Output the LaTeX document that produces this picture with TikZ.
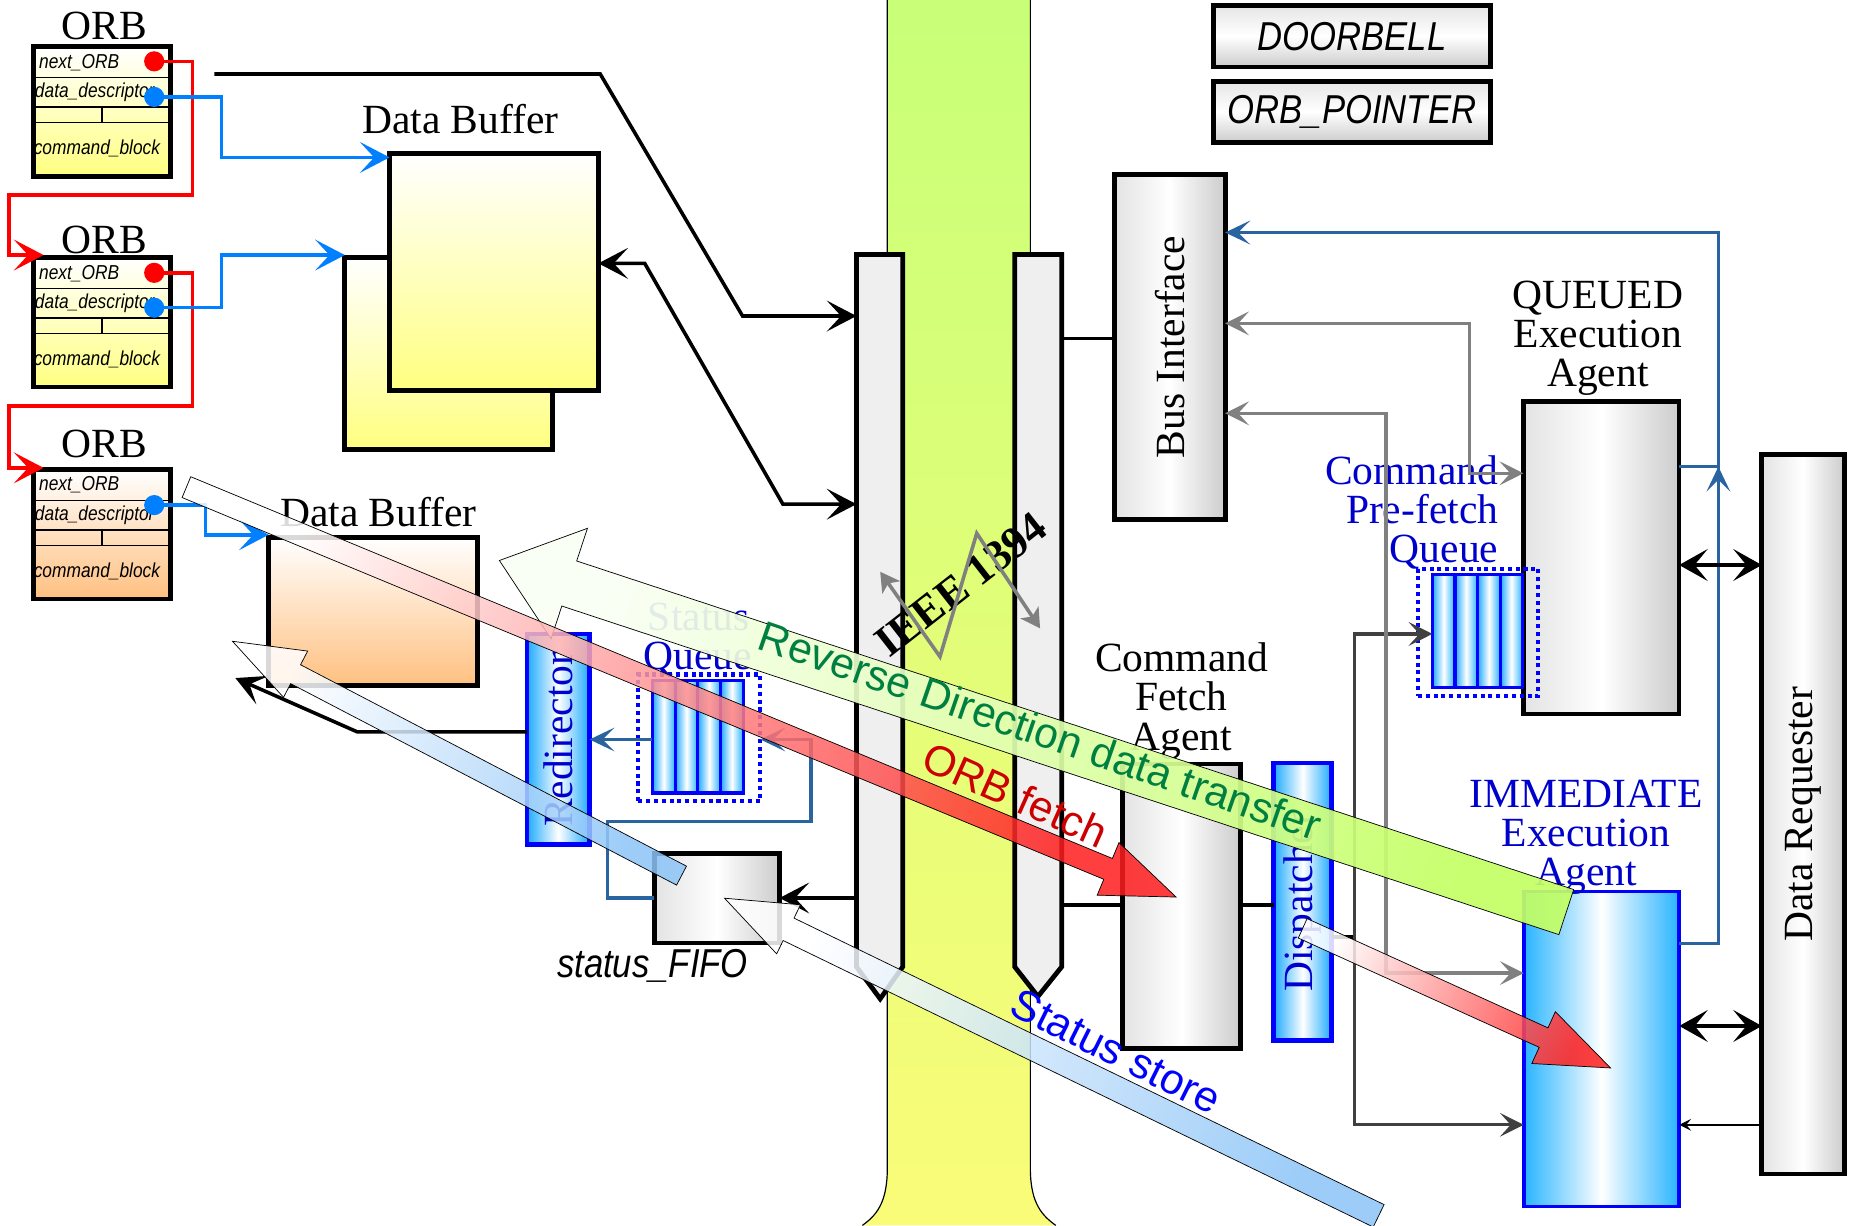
\documentclass[tikz,border=0pt]{standalone}
\usepackage{fontspec}
\setmainfont{Liberation Serif}
\setsansfont{Liberation Sans}
\newfontfamily\condsans[FakeStretch=0.86]{Liberation Sans}
\usetikzlibrary{arrows.meta,fit,calc}
\definecolor{steel}{RGB}{42,100,160}
\definecolor{cblue}{RGB}{0,128,255}
\definecolor{tblue}{RGB}{0,0,204}
\definecolor{pblue}{RGB}{0,0,255}
\definecolor{dgray}{RGB}{64,64,64}
\definecolor{mgray}{RGB}{128,128,128}
\definecolor{yel}{RGB}{255,255,128}
\definecolor{ora}{RGB}{255,192,128}
\definecolor{cyanA}{RGB}{30,170,255}
\definecolor{immcol}{RGB}{40,180,255}
\definecolor{lime}{RGB}{196,255,100}
\definecolor{tipgreen}{RGB}{250,255,245}
\definecolor{tgreen}{RGB}{0,128,64}
\definecolor{dred}{RGB}{204,0,0}
\definecolor{arrred}{RGB}{255,30,30}
\definecolor{lblue}{RGB}{140,196,248}
\definecolor{colgray}{RGB}{239,239,239}
\definecolor{bandtop}{RGB}{200,255,120}
\definecolor{bandbot}{RGB}{250,252,120}

\tikzset{
  every node/.style={inner sep=0pt,outer sep=0pt},
  bx/.style={draw=black,line width=2pt},
  graybox/.style={bx,left color=gray!22,right color=gray!40,middle color=white},
  regbox/.style={bx,top color=gray!20,bottom color=gray!40,middle color=white},
  cyanbox/.style={draw=pblue,line width=2pt,left color=cyanA,right color=cyanA,middle color=white},
  barshade/.style={left color=cyanA,right color=immcol,middle color=white},
  dotbox/.style={draw=pblue,line width=1.7pt,dash pattern=on 1.7pt off 1.6pt},
  lab/.style={font=\fontsize{17.5}{16.5}\selectfont,align=center},
  blab/.style={lab,text=tblue},
  smallit/.style={font=\condsans\itshape\fontsize{8.5}{9}\selectfont,anchor=west},
  regit/.style={font=\condsans\itshape\fontsize{17}{18}\selectfont},
  arrlab/.style={font=\sffamily\fontsize{18}{20}\selectfont},
  blk/.style={draw=black,line width=1.5pt},
  redl/.style={draw=red,line width=1.5pt},
  bluel/.style={draw=cblue,line width=1.5pt},
  stl/.style={draw=steel,line width=1.3pt},
  gyl/.style={draw=mgray,line width=1.5pt},
  dgl/.style={draw=dgray,line width=1.4pt},
  bigtip/.tip={Stealth[length=12.5pt,width=13pt,inset=6pt]},
  dbtip/.tip={Stealth[length=12pt,width=13.4pt,inset=5.5pt]},
  gytip/.tip={Stealth[length=10pt,width=10pt,inset=4.5pt]},
  stltip/.tip={Stealth[length=10.5pt,width=10pt,inset=5pt]},
  ieeetip/.tip={Stealth[length=8pt,width=9pt,inset=2pt]},
  smalltip/.tip={Stealth[length=5pt,width=5pt,inset=2pt]},
}

\newcommand\orbbox[3]{%
  \node[bx,top color=white,bottom color=#3,fit={(28.3,#2) (144,#2+109)}] (#1) {};
  \draw[line width=0.6pt] (28.3,#2+25.7) -- (144,#2+25.7) (28.3,#2+50.7) -- (144,#2+50.7)
     (28.3,#2+64) -- (144,#2+64) (86,#2+50.7) -- (86,#2+64);
  \node[smallit] at (33,#2+13) {next\_ORB};
  \node[smallit] at (29.5,#2+38) {data\_descriptor};
  \node[smallit] at (28.5,#2+86) {command\_block};
}

\newcommand\fatarrow[8]{%
  \begin{scope}[shift={(#1)},rotate=#2]
    \path[draw=black,line width=0.3pt,fill opacity=#8,#7] (0,0) -- (-#6,#5) -- (-#6,#4) -- (-#3,#4) -- (-#3,-#4) -- (-#6,-#4) -- (-#6,-#5) -- cycle;
  \end{scope}}

\begin{document}
\begin{tikzpicture}[x=0.5pt,y=-0.5pt]
\useasboundingbox (0,0) rectangle (1568,1033);
\fill[white] (0,0) rectangle (1568,1033);

% IEEE 1394 band
\shade[top color=bandtop,bottom color=bandbot] (748,0) -- (748,985) .. controls (748,1015) and (738,1025) .. (727,1033) -- (890,1033) .. controls (879,1025) and (868.6,1015) .. (868.6,985) -- (868.6,0) -- cycle;
\draw[line width=0.5pt] (748,0) -- (748,985) .. controls (748,1015) and (738,1025) .. (727,1033);
\draw[line width=0.5pt] (868.6,0) -- (868.6,985) .. controls (868.6,1015) and (879,1025) .. (890,1033);

% columns
\node[fit={(722,214.5) (761,815)}] (colL) {};
\path[bx,fill=colgray] (722,214.5) -- (761,214.5) -- (761,815) -- (742,842) -- (722,815) -- cycle;
\node[fit={(855.4,214.5) (895,815)}] (colR) {};
\path[bx,fill=colgray] (855.4,214.5) -- (895,214.5) -- (895,815) -- (875,840) -- (855.4,815) -- cycle;

\node[font=\bfseries\fontsize{18.5}{20}\selectfont,rotate=38] (ieee) at (810,493) {IEEE 1394};
\coordinate (z1) at (742,482);
\coordinate (z2) at (792.4,553.6);
\coordinate (z3) at (823.4,449.6);
\coordinate (z4) at (876.8,529.7);
\draw[gyl,ieeetip-ieeetip] (z1) -- (z2) -- (z3) -- (z4);

% ORBs
\orbbox{orb1}{39.5}{yel}
\orbbox{orb2}{217.3}{yel}
\orbbox{orb3}{396}{ora}
\node[lab] at (88,22) {ORB};
\node[lab] at (88,202) {ORB};
\node[lab] at (88,374) {ORB};

% data buffers
\node[bx,top color=white,bottom color=yel,fit={(290.7,217.3) (465.7,379)}] (dbback) {};
\node[bx,top color=white,bottom color=yel,fit={(328.4,129.3) (504.4,329.4)}] (dbfront) {};
\node[bx,top color=white,bottom color=ora,fit={(226.5,453.3) (402.6,578)}] (db2) {};
\node[lab] at (388,100) {Data Buffer};
\node[lab] at (319,432) {Data Buffer};

% ORB links
\coordinate (r1) at (130,51.7);
\coordinate (r2) at (130,230);
\coordinate (b1) at (130,81.7);
\coordinate (b2) at (130,259.4);
\coordinate (b3) at (130,425.8);
\draw[redl,-bigtip] (r1) -- (162.4,51.7) -- (162.4,164.4) -- (7.7,164.4) -- (7.7,215) -- ($(orb2.north west)+(8.4,-2.3)$);
\draw[redl,-bigtip] (r2) -- (162.4,230) -- (162.4,342.4) -- (7.7,342.4) -- (7.7,394.4) -- ($(orb3.north west)+(8.4,-1.6)$);
\draw[bluel,-bigtip] (b1) -- (186.7,81.7) -- (186.7,132.7) -- (dbfront.west |- 0,132.7);
\draw[bluel,-bigtip] (b2) -- (186.7,259.4) -- (186.7,215) -- (dbback.west |- 0,215);
\draw[bluel,-bigtip] (b3) -- (173.4,425.8) -- (173.4,450.8) -- (db2.west |- 0,450.8);
\foreach \p in {r1,r2} \fill[red] (\p) circle (8.5);
\foreach \p in {b1,b2,b3} \fill[cblue] (\p) circle (8.5);

% black links to bus
\coordinate (bstart) at (180.8,62.4);
\draw[blk,-bigtip] (bstart) -- (506,62.4) -- (626,266.4) -- (colL.west |- 0,266.4);
\draw[blk,bigtip-bigtip] (dbfront.east |- 0,222) -- (543.5,222) -- (660,425) -- (colL.west |- 0,425);

% redirector, status queue, status fifo
\node[cyanbox,fit={(444.3,534.5) (497,712)}] (redir) {};
\node[blab,rotate=90] at (redir.center) {Redirector};
\coordinate (db2arr) at (198.4,571.6);
\draw[blk,-bigtip] (redir.west |- 0,616.9) -- (301,616.9) -- (db2arr);

\node[fit={(550,573.7) (626.6,668.5)}] (sqbars) {};
\foreach \i in {0,1,2,3} \shade[barshade] ({550+\i*19.15},573.7) rectangle ({550+(\i+1)*19.15},668.5);
\draw[pblue,line width=1.3pt] (sqbars.north west) rectangle (sqbars.south east);
\foreach \i in {1,2,3} \draw[pblue,line width=1.3pt] ({550+\i*19.15},573.7) -- ({550+\i*19.15},668.5);
\node[dotbox,fit={(538,568.6) (641,675)}] (squeue) {};
\node[blab] at (589,520) {Status};
\node[blab] at (588,556) {Queue};

\node[graybox,fit={(551.7,719.4) (657.2,794.9)}] (sfifo) {};
\node[regit] at (550,814) {status\_FIFO};
\draw[stl,-stltip] (sqbars.west |- 0,623.4) -- (redir.east |- 0,623.4);
\draw[stl,-stltip] (sfifo.west |- 0,757) -- (511.9,757) -- (511.9,692.8) -- (683.7,692.8) -- (683.7,623.4) -- (squeue.east |- 0,623.4);
\draw[blk,-bigtip] (colL.west |- 0,757) -- (sfifo.east |- 0,757);

% registers
\node[regbox,fit={(1023,4.8) (1256.5,56.5)}] (doorbell) {};
\node[regit] at (doorbell.center) {DOORBELL};
\node[regbox,fit={(1023,68.4) (1256.5,120)}] (orbptr) {};
\node[regit] at (orbptr.center) {ORB\_POINTER};

% bus interface
\node[graybox,fit={(939.6,147.4) (1032.8,437.8)}] (busif) {};
\node[lab,rotate=90] at (busif.center) {Bus Interface};
\draw[blk] (colR.east |- 0,285.5) -- (busif.west |- 0,285.5);

% command fetch agent, dispatcher
\node[graybox,fit={(946.2,644) (1046,883.8)}] (cfa) {};
\node[lab] at (996,591) {Command\\Fetch\\Agent};
\node[cyanbox,fit={(1073.8,643.2) (1122.5,877.4)}] (disp) {};
\node[blab,rotate=90] at (disp.center) {Dispatcher};
\draw[blk] (colR.east |- 0,763) -- (cfa.west |- 0,763);
\draw[blk] (cfa.east |- 0,763) -- (disp.west |- 0,763);
\draw[blk] (disp.east |- 0,789.8) -- (1142,789.8);

% queued agent and prefetch queue
\node[graybox,fit={(1284.2,338.6) (1415.5,602)}] (queued) {};
\node[lab] at (1347,285) {QUEUED\\Execution\\Agent};
\node[fit={(1207.5,484.4) (1283.7,579.4)}] (pfqbars) {};
\foreach \i in {0,1,2,3} \shade[barshade] ({1207.5+\i*19.05},484.4) rectangle ({1207.5+(\i+1)*19.05},579.4);
\draw[pblue,line width=1.3pt] (pfqbars.north west) rectangle (pfqbars.south east);
\foreach \i in {1,2,3} \draw[pblue,line width=1.3pt] ({1207.5+\i*19.05},484.4) -- ({1207.5+\i*19.05},579.4);
\node[dotbox,fit={(1195.3,479.3) (1296.8,586.5)}] (pfq) {};
\node[blab,align=right,anchor=east] at (1263,432) {Command\\Pre-fetch\\Queue};

% immediate agent, data requester
\node[draw=pblue,line width=1.6pt,left color=immcol,right color=immcol,middle color=white,fit={(1284.5,751.5) (1415.6,1017)}] (immed) {};
\node[blab] at (1337,706) {IMMEDIATE\\Execution\\Agent};
\node[graybox,fit={(1485.2,383) (1554.8,989.7)}] (dreq) {};
\node[lab,rotate=90] at (dreq.center) {Data Requester};

% internal connectors
\draw[dgl,gytip-gytip] (pfqbars.west |- 0,534.4) -- (1142,534.4) -- (1142,948.2) -- (immed.west |- 0,948.2);
\draw[gyl,gytip-gytip] (busif.east |- 0,272.6) -- (1238.7,272.6) -- (1238.7,399) -- (queued.west |- 0,399);
\draw[gyl,gytip-gytip] (busif.east |- 0,348.4) -- (1168.3,348.4) -- (1168.3,820.3) -- (immed.west |- 0,820.3);
\draw[stl,-stltip] (immed.east |- 0,795.2) -- (1448.6,795.2) -- (1448.6,196) -- (busif.east |- 0,196);
\draw[stl] (queued.east |- 0,393.4) -- (1448.6,393.4);
\draw[stl,-stltip] (1448.6,425) -- (1448.6,393.4);
\draw[blk,dbtip-dbtip] (queued.east |- 0,476.3) -- (dreq.west |- 0,476.3);
\draw[blk,dbtip-dbtip] (immed.east |- 0,864.9) -- (dreq.west |- 0,864.9);
\draw[line width=0.6pt,-smalltip] (dreq.west |- 0,948.2) -- (immed.east |- 0,948.2);

% big transfer arrows
\fatarrow{421,472.5}{161.76}{947}{20}{49}{62}{left color=lime,right color=tipgreen,shading angle=251.76}{0.92}
\fatarrow{991.4,756.2}{-22.5}{903}{9.5}{24}{62}{left color=white,right color=arrred,shading angle=67.5}{0.85}
\fatarrow{1357.7,900.3}{-24.4}{285}{9}{24}{62}{left color=white,right color=arrred,shading angle=65.6}{0.85}
\fatarrow{610.8,757.2}{154.1}{613}{10.5}{23}{60}{left color=lblue,right color=white,shading angle=244.1}{0.85}
\fatarrow{196,540.6}{152.44}{427}{9}{22}{60}{left color=lblue,right color=white,shading angle=242.44}{0.85}

\node[arrlab,text=tgreen,rotate=-19] at (877,616) {Reverse Direction data transfer};
\node[arrlab,text=dred,rotate=-24] at (856,670) {ORB fetch};
\node[arrlab,text=pblue,rotate=-26.5] at (941,886) {Status store};
\end{tikzpicture}
\end{document}
